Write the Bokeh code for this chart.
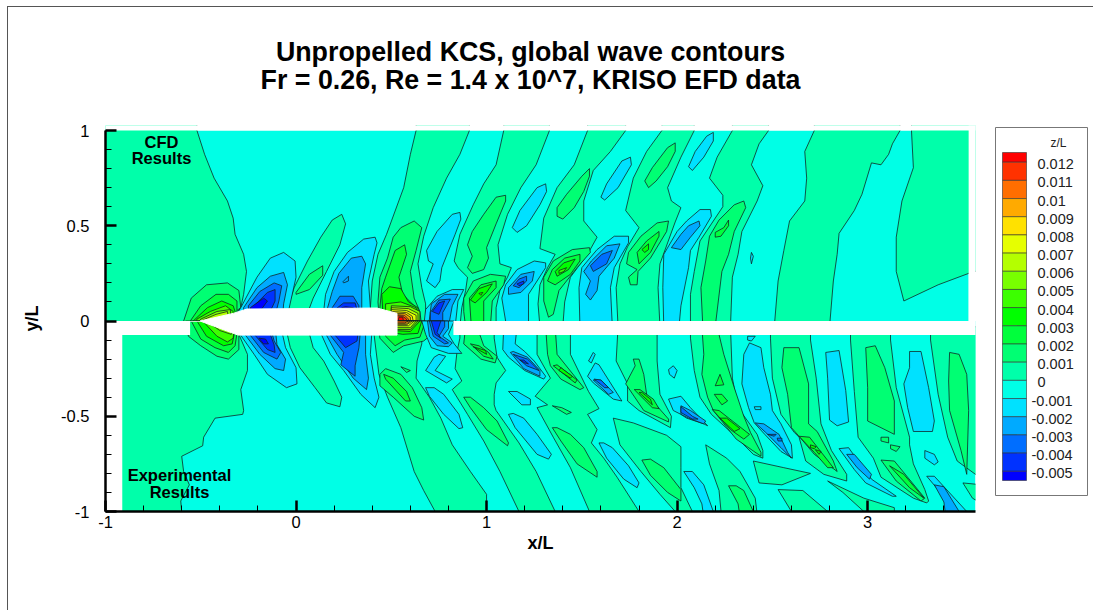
from bokeh.plotting import figure
from bokeh.embed import file_html
from bokeh.resources import INLINE
from bokeh.layouts import column, row
from bokeh.core.properties import value
from bokeh.models import FixedTicker, Label

# Contour regions, in x/L, y/L: each ring is x,y,x,y,...
# top_pN: region where z/L > N*0.001 ; top_mN: region where z/L < -N*0.001 ; same for low_*
top_p0 = [
 [-1.1,1.1,-.52,1.1,-.52,1,-.48,.875,-.43,.75,-.36,.63,-.33,.54,-.32,.455,-.275,.35,-.26,.26,-.275,.14,-.29,.07,-.31,.04,-.31,-.03,-1.1,-.03],
 [-.04,-.03,-.04,.08,-.01,.175,.06,.315,.13,.44,.19,.53,.24,.56,.26,.51,.23,.4,.16,.26,.09,.12,.06,.04,.06,-.03],
 [.63,1.1,.63,1,.6,.875,.565,.7,.475,.455,.43,.35,.4,.21,.39,.07,.39,-.03,.68,-.03,.68,.09,.66,.175,.64,.3,.67,.445,.72,.595,.79,.75,.86,.875,.91,1,.91,1.1],
 [1.09,1.1,1.09,1,1.05,.82,.985,.72,.93,.61,.86,.455,.83,.315,.85,.28,.9,.23,.89,.16,.87,.07,.86,-.03,1.05,-.03,1.05,.07,1.07,.16,1.11,.23,1.13,.28,1.07,.3,1.06,.4,1.11,.56,1.18,.7,1.26,.82,1.33,1,1.33,1.1],
 [1.53,1.1,1.53,1,1.46,.82,1.37,.7,1.3,.54,1.28,.38,1.36,.35,1.32,.28,1.28,.19,1.27,.09,1.28,-.03,1.4,-.03,1.41,.1,1.44,.23,1.53,.35,1.58,.44,1.51,.525,1.51,.63,1.56,.79,1.65,.89,1.73,1,1.73,1.1],
 [1.92,1.1,1.92,1,1.84,.89,1.77,.75,1.73,.58,1.8,.49,1.74,.39,1.7,.3,1.68,.175,1.69,-.03,1.91,-.03,1.9,.175,1.91,.3,1.99,.52,2.02,.595,1.97,.63,1.95,.7,2.02,.86,2.09,1,2.09,1.1],
 [2.29,1.1,2.29,1,2.21,.86,2.17,.75,2.24,.66,2.24,.6,2.18,.51,2.12,.42,2.09,.26,2.07,.14,2.07,-.03,2.28,-.03,2.29,.23,2.32,.35,2.34,.47,2.42,.63,2.45,.71,2.39,.82,2.43,.93,2.48,1,2.48,1.1],
 [2.72,1.1,2.72,1,2.67,.89,2.68,.75,2.67,.63,2.59,.525,2.56,.37,2.53,.21,2.51,-.03,2.8,-.03,2.82,.21,2.84,.35,2.85,.46,2.93,.58,2.97,.665,3.02,.83,3.07,.82,3.11,.875,3.13,.93,3.17,1,3.17,1.1],
 [3.23,1.1,3.23,1,3.24,.805,3.18,.63,3.15,.44,3.15,.26,3.19,.105,3.37,.19,3.53,.25,3.7,.3,3.7,1.1],
]
top_p1 = [
 [-.6,-.03,-.59,0,-.55,.12,-.47,.19,-.36,.2,-.3,.16,-.29,.07,-.33,.04,-.33,-.03],
 [0,.15,.07,.245,.14,.29,.14,.24,.07,.165,0,.14],
 [.44,-.03,.43,.1,.44,.23,.48,.33,.51,.44,.55,.49,.62,.525,.66,.49,.63,.37,.6,.26,.62,.12,.65,.05,.66,-.03],
 [1.1,.66,1.05,.65,.985,.56,.925,.47,.9,.4,.925,.34,.9,.28,.925,.25,.985,.27,1.01,.33,1,.385,1.05,.51,1.1,.63],
 [1.54,.8,1.5,.76,1.42,.665,1.37,.595,1.37,.55,1.4,.535,1.46,.595,1.51,.68,1.54,.76],
 [1.99,.935,1.95,.91,1.87,.805,1.83,.735,1.85,.7,1.89,.735,1.95,.81,1.99,.89],
 [1.1,.235,1.02,.245,.93,.21,.88,.12,.88,.05,.89,-.03,1.02,-.03,1.03,.105,1.09,.19],
 [1.54,.385,1.45,.375,1.35,.315,1.3,.23,1.3,.105,1.325,.02,1.35,.035,1.38,.16,1.475,.28,1.545,.36],
 [1.955,.525,1.895,.515,1.81,.445,1.745,.36,1.735,.3,1.79,.27,1.745,.23,1.755,.19,1.79,.19,1.795,.26,1.86,.33,1.945,.47],
 [2.35,.63,2.3,.61,2.22,.53,2.17,.445,2.15,.315,2.125,.175,2.135,-.03,2.2,-.03,2.235,.26,2.27,.35,2.3,.47,2.36,.595],
]
top_p2 = [
 [-.58,-.03,-.555,0,-.5,.08,-.42,.14,-.355,.14,-.31,.105,-.31,.05,-.33,.03,-.33,-.03],
 [.45,-.03,.44,.07,.45,.17,.47,.23,.52,.37,.57,.4,.58,.35,.54,.23,.56,.14,.63,.07,.64,-.03],
 [1.05,.21,.97,.19,.91,.12,.92,-.03,.985,-.03,.985,.105,1.05,.175],
 [1.49,.35,1.41,.33,1.345,.27,1.32,.21,1.36,.19,1.44,.245,1.49,.315],
 [1.905,.47,1.84,.42,1.79,.36,1.8,.3,1.86,.36,1.905,.445],
 [2.27,.53,2.245,.49,2.2,.465,2.2,.44,2.23,.445,2.27,.5],
]
top_p3 = [
 [-.56,-.03,-.54,0,-.465,.07,-.39,.105,-.33,.08,-.32,.05,-.33,-.03],
 [.46,-.03,.45,.14,.49,.18,.55,.17,.59,.1,.64,.07,.65,-.03],
 [1.03,.195,.96,.17,.915,.11,.94,.095,1,.15],
 [1.465,.325,1.405,.305,1.36,.26,1.37,.235,1.43,.27],
 [1.85,.405,1.815,.375,1.83,.36,1.85,.375],
]
top_p4 = [
 [-.54,-.03,-.52,.01,-.45,.05,-.37,.08,-.33,.05,-.33,-.03],
 [.47,-.03,.47,.09,.55,.1,.63,.07,.65,-.03],
 [.96,.145,.98,.15,.97,.135],
 [1.42,.28,1.38,.265,1.38,.25,1.405,.26],
]
top_p5 = [[-.52,-.03,-.5,.01,-.415,.05,-.345,.06,-.34,-.03],[.5,-.03,.5,.08,.6,.075,.65,.05,.65,-.03]]
top_p6 = [[-.5,-.03,-.49,.005,-.42,.035,-.36,.05,-.35,-.03],[.5,-.03,.5,.07,.59,.065,.64,.04,.64,-.03]]
top_p7 = [[.5,-.03,.5,.06,.58,.055,.63,.03,.63,-.03]]
top_p8 = [[.5,-.03,.5,.05,.58,.045,.61,.025,.62,-.03]]
top_p9 = [[.5,-.03,.5,.04,.57,.04,.6,.02,.6,-.03]]
top_p10 = [[.5,-.03,.5,.035,.57,.03,.59,.01,.59,-.03]]
top_p11 = [[.5,-.03,.5,.03,.56,.025,.58,.01,.58,-.03]]
top_p12 = [[.53,-.03,.54,.02,.56,.02,.57,-.03]]
top_m1 = [
 [-.31,-.03,-.31,.04,-.29,.07,-.205,.23,-.135,.33,-.065,.36,-.005,.315,0,.23,-.02,.14,-.04,.05,-.04,-.03],
 [.145,-.03,.145,.05,.155,.14,.2,.26,.27,.36,.355,.43,.415,.44,.425,.41,.41,.35,.38,.21,.39,.07,.38,-.03],
 [.86,.57,.82,.56,.74,.47,.685,.37,.695,.315,.72,.3,.685,.21,.73,.175,.755,.21,.765,.28,.835,.455,.865,.535],
 [.88,.165,.82,.165,.74,.13,.68,.06,.67,-.03,.835,-.03,.85,.105],
 [1.31,.305,1.25,.315,1.16,.27,1.1,.19,1.08,.12,1.105,-.03,1.22,-.03,1.22,.14,1.31,.28],
 [1.31,.72,1.265,.7,1.175,.58,1.135,.49,1.16,.465,1.21,.5,1.28,.61,1.315,.68],
 [1.745,.445,1.67,.445,1.58,.375,1.5,.28,1.485,.175,1.49,-.03,1.66,-.03,1.65,.175,1.67,.28,1.745,.41],
 [1.755,.86,1.71,.84,1.63,.72,1.6,.65,1.62,.635,1.69,.7,1.76,.82],
 [2.19,.99,2.155,.97,2.095,.89,2.06,.81,2.08,.79,2.14,.86,2.19,.945],
 [2.175,.585,2.12,.585,2.05,.525,2,.47,1.93,.35,1.925,.175,1.93,-.03,2.01,-.03,2.02,.08,2.06,.28,2.07,.37,2.115,.44,2.18,.55],
 [2.39,.36,2.4,.34,2.39,.3,2.385,.33],
]
top_m2 = [
 [-.275,.03,-.275,.07,-.205,.175,-.135,.235,-.065,.255,-.045,.19,-.065,.09,-.07,.03],
 [.16,-.03,.16,.05,.19,.155,.225,.25,.29,.33,.345,.34,.365,.3,.345,.175,.345,.05,.36,-.03],
 [.245,.205,.275,.235,.275,.21,.25,.2],
 [.85,.14,.78,.14,.71,.09,.695,-.03,.8,-.03,.82,.08],
 [1.25,.26,1.18,.245,1.115,.175,1.115,.14,1.18,.15,1.24,.21],
 [1.7,.405,1.63,.395,1.55,.315,1.51,.26,1.545,.21,1.52,.14,1.545,.11,1.58,.16,1.59,.235,1.67,.33],
 [2.115,.525,2.06,.5,2.02,.455,1.97,.385,2.02,.375,2.07,.44,2.12,.5],
]
top_m3 = [
 [-.25,.03,-.25,.08,-.19,.155,-.115,.2,-.075,.185,-.09,.105,-.11,.03],
 [.19,.03,.19,.07,.23,.13,.3,.13,.33,.08,.33,.03],
 [.81,.115,.75,.11,.705,.045,.705,-.03,.77,-.03,.77,.045],
 [1.21,.235,1.17,.22,1.14,.185,1.17,.175,1.21,.21],
 [1.66,.37,1.605,.35,1.545,.29,1.56,.26,1.63,.3],
]
top_m4 = [
 [-.22,.03,-.22,.08,-.15,.15,-.11,.165,-.11,.105,-.145,.03],
 [.205,.03,.205,.06,.25,.095,.31,.095,.32,.06,.32,.03],
 [.78,.105,.75,.095,.715,.05,.75,.035],
 [1.195,.21,1.16,.195,1.17,.185,1.195,.195],
]
top_m5 = [[-.24,.05,-.24,.07,-.17,.12,-.15,.105,-.19,.05],[.24,.05,.24,.07,.26,.075,.3,.07,.3,.05]]

low_p0 = [
 [-1,-.03,-.3,-.03,-.3,-.07,-.255,-.175,-.255,-.26,-.29,-.36,-.275,-.47,-.28,-.49,-.425,-.51,-.485,-.61,-.49,-.655,-.6,-.71,-.59,-.79,-.56,-.86,-.605,-.945,-.6,-1,-.6,-1.1,-1,-1.1],
 [-.055,-.03,-.03,-.14,.02,-.245,.1,-.35,.16,-.43,.23,-.45,.24,-.4,.2,-.315,.145,-.21,.09,-.14,.06,-.03],
 [.41,-.03,.41,-.075,.435,-.28,.48,-.4,.55,-.56,.62,-.79,.67,-.89,.73,-1,.73,-1.1,1,-1.1,1,-.91,.915,-.79,.82,-.65,.76,-.51,.7,-.4,.63,-.3,.635,-.21,.66,-.12,.66,-.03],
 [.86,-.03,.86,-.09,.845,-.16,.835,-.25,.87,-.315,.82,-.36,.9,-.49,.985,-.63,1.07,-.79,1.17,-1,1.17,-1.1,1.36,-1.1,1.36,-1,1.26,-.79,1.17,-.64,1.05,-.47,1.04,-.44,1.04,-.385,1.05,-.325,1.1,-.26,1.055,-.19,1.04,-.09,1.04,-.03],
 [1.265,-.03,1.265,-.175,1.335,-.3,1.255,-.395,1.32,-.44,1.265,-.455,1.35,-.61,1.44,-.77,1.54,-1,1.54,-1.1,1.8,-1.1,1.8,-1,1.685,-.82,1.615,-.72,1.55,-.64,1.58,-.57,1.53,-.49,1.59,-.46,1.535,-.37,1.44,-.175,1.44,-.03],
 [1.69,-.03,1.68,-.21,1.74,-.33,1.74,-.42,1.8,-.47,1.965,-.56,1.97,-.5,1.91,-.385,1.895,-.21,1.895,-.03],
 [1.665,-.51,1.77,-.535,1.945,-.6,2.02,-.66,2.02,-.77,2.02,-.875,2.08,-1,2.08,-1.1,1.99,-1.1,1.99,-1,1.91,-.91,1.81,-.79,1.7,-.65],
 [2.07,-.03,2.07,-.09,2.09,-.26,2.12,-.4,2.18,-.49,2.3,-.6,2.4,-.7,2.45,-.72,2.45,-.68,2.42,-.595,2.32,-.455,2.29,-.3,2.28,-.03],
 [2.49,-.03,2.49,-.09,2.5,-.3,2.545,-.49,2.615,-.585,2.64,-.61,2.675,-.735,2.77,-.805,2.89,-.84,2.89,-.805,2.81,-.68,2.755,-.54,2.73,-.3,2.7,-.1,2.7,-.03],
 [2.91,-.03,2.91,-.1,2.93,-.37,2.95,-.61,3.03,-.72,3.07,-.82,3.24,-.93,3.31,-.955,3.32,-.945,3.3,-.885,3.24,-.75,3.22,-.65,3.22,-.61,3.15,-.35,3.12,-.1,3.12,-.03],
 [3.33,-.03,3.33,-.1,3.37,-.385,3.42,-.61,3.47,-.735,3.6,-.83,3.7,-.83,3.7,-.03],
 [3.5,-.85,3.6,-.86,3.6,-.96,3.55,-.93],
 [2.15,-.65,2.26,-.72,2.33,-.79,2.41,-.93,2.43,-1.1,2.24,-1.1,2.22,-.89,2.17,-.75],
 [2.4,-.735,2.56,-.77,2.7,-.8,2.55,-.86,2.43,-.85],
 [2.53,-.885,2.66,-.89,2.79,-1,2.79,-1.1,2.6,-1.1,2.6,-1],
 [2.79,-.84,2.98,-.93,3.14,-.98,3.14,-1.1,2.98,-1.1,2.98,-1,2.87,-.9],
]
low_p1 = [
 [-.58,0,-.565,-.08,-.5,-.13,-.415,-.185,-.355,-.2,-.3,-.15,-.3,0],
 [.43,0,.44,-.09,.51,-.165,.565,-.13,.67,-.105,.7,-.08,.7,0],
 [.47,-.25,.44,-.28,.44,-.34,.51,-.4,.62,-.5,.67,-.52,.66,-.455,.61,-.35,.55,-.28],
 [.55,-.24,.6,-.26,.58,-.27],
 [.88,-.4,.915,-.455,1,-.57,1.11,-.655,1.115,-.64,1.055,-.525,.985,-.455,.915,-.4],
 [1.345,-.56,1.39,-.63,1.475,-.75,1.58,-.82,1.58,-.79,1.51,-.665,1.44,-.595,1.37,-.56],
 [1.815,-.73,1.86,-.81,1.95,-.9,2.02,-.945,2.02,-.885,1.93,-.77,1.86,-.725],
 [2.27,-.865,2.32,-.96,2.34,-1.1,2.4,-1.1,2.4,-1,2.35,-.89,2.31,-.865],
 [1.345,-.445,1.42,-.49,1.445,-.48,1.395,-.455],
 [.89,-.03,.88,-.12,.97,-.2,1.045,-.22,1.055,-.185,.985,-.13,.95,-.03],
 [1.31,-.03,1.32,-.175,1.335,-.235,1.39,-.305,1.49,-.36,1.51,-.35,1.37,-.175,1.36,-.03],
 [1.77,-.2,1.78,-.235,1.73,-.33,1.825,-.47,1.955,-.53,1.955,-.515,1.84,-.385,1.825,-.28,1.8,-.2],
 [2.13,-.03,2.14,-.175,2.13,-.28,2.16,-.4,2.19,-.47,2.31,-.62,2.44,-.71,2.44,-.69,2.385,-.585,2.35,-.5,2.3,-.35,2.245,-.175,2.21,-.03],
 [2.56,-.14,2.64,-.14,2.69,-.33,2.69,-.54,2.735,-.58,2.82,-.735,2.84,-.79,2.72,-.7,2.64,-.605,2.6,-.56,2.58,-.385,2.55,-.245],
 [2.99,-.14,3.04,-.13,3.09,-.245,3.14,-.42,3.14,-.595,3,-.525,3,-.35],
 [3.07,-.73,3.14,-.735,3.3,-.93,3.28,-.945,3.15,-.84],
 [3.07,-.61,3.11,-.61,3.11,-.64,3.07,-.63],
 [3.12,-.65,3.17,-.66,3.15,-.685,3.12,-.67],
 [3.43,-.165,3.48,-.175,3.52,-.28,3.53,-.47,3.52,-.805,3.49,-.68,3.43,-.47,3.425,-.315],
]
low_p2 = [
 [-.55,0,-.5,-.095,-.425,-.14,-.355,-.165,-.32,-.13,-.3,0],
 [.46,0,.47,-.08,.52,-.13,.57,-.1,.65,-.085,.68,0],
 [.46,-.28,.47,-.305,.575,-.42,.6,-.42,.58,-.37,.51,-.3],
 [.915,-.12,.985,-.185,1.035,-.2,1.01,-.165,.96,-.13],
 [1.35,-.235,1.465,-.325,1.475,-.31,1.37,-.23],
 [1.775,-.36,1.87,-.455,1.905,-.46,1.875,-.41,1.805,-.36],
 [2.225,-.28,2.245,-.335,2.2,-.34],
 [2.195,-.385,2.235,-.385,2.265,-.42,2.235,-.44],
 [2.185,-.465,2.22,-.47,2.38,-.595,2.35,-.62,2.28,-.57],
 [2.64,-.605,2.695,-.61,2.82,-.77,2.79,-.77,2.72,-.69],
 [3.115,-.76,3.19,-.805,3.295,-.93,3.22,-.875],
]
low_p3 = [
 [-.52,0,-.47,-.08,-.38,-.13,-.335,-.12,-.31,0],
 [.5,0,.5,-.06,.56,-.07,.64,-.065,.66,0],
 [.93,-.135,1,-.175,.995,-.155],
 [1.38,-.26,1.44,-.3,1.45,-.29,1.39,-.245],
 [1.8,-.375,1.87,-.44,1.86,-.41,1.815,-.375],
 [2.225,-.51,2.26,-.51,2.33,-.565,2.3,-.58],
 [2.7,-.65,2.73,-.66,2.72,-.67,2.7,-.665],
 [2.725,-.675,2.755,-.685,2.745,-.7],
]
low_p4 = [[-.49,0,-.415,-.08,-.36,-.11,-.33,-.09,-.32,0],[.51,0,.51,-.05,.6,-.055,.65,0]]
low_p5 = [[-.47,0,-.4,-.05,-.34,-.07,-.33,0],[.52,0,.52,-.045,.6,-.045,.64,0]]
low_p6 = [[-.45,0,-.38,-.03,-.34,-.04,-.34,0],[.52,0,.52,-.035,.6,-.035,.63,0]]
low_p7 = [[.52,0,.52,-.025,.59,-.025,.62,0]]
low_p8 = [[.52,0,.52,-.02,.58,-.02,.61,0]]
low_p9 = [[.52,0,.52,-.015,.58,-.015,.6,0]]
low_p10 = [[.52,0,.52,-.01,.57,-.01,.59,0]]
low_m1 = [
 [-.3,-.03,-.29,-.075,-.22,-.175,-.15,-.28,-.05,-.35,.005,-.33,0,-.245,-.055,-.14,-.08,-.03],
 [.135,-.03,.135,-.075,.18,-.175,.25,-.26,.34,-.385,.415,-.455,.435,-.4,.41,-.3,.39,-.175,.4,-.03],
 [.66,0,.68,-.07,.71,-.14,.8,-.17,.87,-.17,.83,-.12,.8,-.07,.83,0],
 [.75,-.175,.785,-.185,.73,-.26,.82,-.305,.79,-.325,.68,-.26,.725,-.19],
 [.68,-.35,.7,-.395,.775,-.49,.855,-.565,.875,-.56,.855,-.49,.775,-.385,.725,-.35],
 [1.115,-.49,1.15,-.56,1.265,-.7,1.325,-.725,1.34,-.7,1.265,-.595,1.195,-.51,1.14,-.485],
 [1.59,-.64,1.63,-.72,1.72,-.83,1.79,-.875,1.8,-.85,1.745,-.76,1.66,-.665,1.615,-.64],
 [2.035,-.79,2.09,-.875,2.13,-.96,2.15,-1.1,2.2,-1.1,2.19,-1,2.14,-.86,2.08,-.79],
 [1.115,-.37,1.185,-.44,1.23,-.44,1.23,-.41,1.16,-.37],
 [1.09,-.03,1.085,-.15,1.115,-.19,1.2,-.26,1.3,-.305,1.31,-.29,1.25,-.21,1.2,-.16,1.15,-.12,1.16,-.03],
 [1.53,-.29,1.57,-.22,1.59,-.23,1.71,-.42,1.665,-.41,1.56,-.325],
 [1.535,-.21,1.56,-.165,1.57,-.175,1.55,-.22],
 [1.955,-.255,1.98,-.235,2,-.26,1.985,-.3,1.96,-.28],
 [2.02,-.395,2.07,-.455,2.16,-.55,2.14,-.54,2.05,-.51,2.02,-.49,1.98,-.47,1.955,-.41],
 [2.38,-.115,2.44,-.14,2.455,-.245,2.49,-.385,2.5,-.47,2.545,-.54,2.6,-.65,2.605,-.72,2.545,-.685,2.46,-.595,2.405,-.535,2.375,-.455,2.34,-.33,2.35,-.175],
 [2.405,-.45,2.44,-.45,2.44,-.465,2.41,-.465],
 [2.37,-.08,2.41,-.08,2.39,-.105,2.37,-.1],
 [2.78,-.165,2.85,-.155,2.885,-.365,2.9,-.53,2.84,-.55,2.8,-.52,2.79,-.3],
 [2.85,-.67,2.9,-.665,2.96,-.75,3.02,-.83,3.15,-.92,3.13,-.92,2.99,-.85,2.93,-.78],
 [3.3,-.68,3.35,-.7,3.37,-.74,3.35,-.755,3.3,-.72],
 [3.22,-.16,3.28,-.16,3.32,-.35,3.35,-.525,3.34,-.58,3.24,-.58,3.21,-.455,3.19,-.33,3.22,-.245],
 [3.31,-.815,3.35,-.815,3.52,-1,3.52,-1.1,3.45,-1.1,3.42,-.945],
]
low_m2 = [
 [-.265,-.03,-.265,-.075,-.19,-.175,-.11,-.25,-.065,-.26,-.055,-.2,-.1,-.125,-.11,-.03],
 [.16,-.03,.16,-.075,.215,-.175,.3,-.3,.37,-.36,.38,-.3,.365,-.175,.365,-.03],
 [.69,0,.7,-.08,.74,-.13,.8,-.135,.82,-.115,.77,-.08,.8,-.04,.8,0],
 [1.125,-.165,1.195,-.25,1.28,-.29,1.28,-.26,1.215,-.19,1.14,-.16],
 [1.56,-.31,1.6,-.31,1.665,-.375,1.64,-.385],
 [2.02,-.445,2.07,-.47,2.15,-.525,2.14,-.54,2.06,-.51,2.02,-.49],
 [2.41,-.535,2.455,-.54,2.535,-.595,2.58,-.69,2.6,-.72,2.545,-.665,2.465,-.585],
 [2.89,-.7,2.93,-.7,3.02,-.805,3.01,-.83,2.945,-.77],
 [3.35,-.86,3.4,-.87,3.48,-1,3.48,-1.1,3.42,-1.1,3.4,-.95],
]
low_m3 = [
 [-.24,-.03,-.24,-.075,-.17,-.165,-.1,-.2,-.08,-.165,-.115,-.105,-.135,-.03],
 [.18,-.03,.18,-.075,.25,-.165,.235,-.23,.31,-.29,.31,-.235,.33,-.14,.34,-.03],
 [.7,0,.72,-.08,.78,-.12,.8,-.115,.75,-.08,.78,-.03,.78,0],
 [1.14,-.175,1.21,-.235,1.275,-.26,1.215,-.2],
 [1.565,-.305,1.6,-.31,1.64,-.35,1.62,-.35],
 [2.02,-.45,2.08,-.5,2.11,-.515,2.08,-.515,2.02,-.48],
 [2.475,-.595,2.52,-.595,2.51,-.605],
 [2.525,-.615,2.55,-.615,2.55,-.63,2.53,-.63],
]
low_m4 = [
 [-.215,-.03,-.215,-.075,-.15,-.15,-.11,-.165,-.115,-.125,-.15,-.03],
 [.205,-.03,.205,-.075,.26,-.14,.32,-.105,.33,-.03],
 [.71,0,.73,-.07,.76,-.09,.74,-.06,.76,0],
 [1.175,-.205,1.2,-.22,1.22,-.225,1.195,-.205],
]
low_m5 = [[-.195,-.09,-.17,-.12,-.145,-.12,-.16,-.095]]

hull_x = [-.504,-.33,-.257,.425,.53,.53,-.304]
hull_y = [0,.04,.063,.068,.04,-.074,-.074]

palette = ["#0000ff","#0032ff","#006eff","#00aaff","#00e1ff","#00ffe6","#00ffaa","#00ff73","#00ff3c","#00ff00",
           "#3cff00","#78ff00","#b4ff00","#e6ff00","#ffe100","#ffaa00","#ff6e00","#ff3200","#ff0000"]
legend_labels = ["0.012","0.011","0.01","0.009","0.008","0.007","0.006","0.005","0.004","0.003","0.002","0.001","0",
                 "-0.001","-0.002","-0.003","-0.004","-0.005"]
title_lines = ["Unpropelled KCS, global wave contours", "Fr = 0.26, Re = 1.4 x 10^7, KRISO EFD data"]

# page layout: column origin at (8,7); title strip to y=120; plot and legend side by side below it.
# Both frames of the row share their top (page y=125) and bottom (page y=511).
FL, FB, FT = 105, 511, 125
p = figure(width=977, height=490, x_range=(-1, 3.566), y_range=(-1, 1+(130-FT)/190.5), output_backend="svg", toolbar_location=None,
           min_border_left=FL-8, min_border_right=10, min_border_top=FT-120, min_border_bottom=610-FB)
p.grid.visible = False
p.outline_line_color = None
p.background_fill_color = "white"

def draw(rings, band):
    if rings:
        xs = [r[0::2] for r in rings]
        ys = [r[1::2] for r in rings]
        p.patches(xs, ys, fill_color=palette[band], line_color="#102020", line_width=0.9, line_alpha=0.85)

CYAN = 5  # band -0.001..0
p.quad(left=[-1], right=[3.53], top=[1], bottom=[0], color=palette[CYAN], line_color=None)
tops = [top_p0,top_p1,top_p2,top_p3,top_p4,top_p5,top_p6,top_p7,top_p8,top_p9,top_p10,top_p11,top_p12]
for i, r in enumerate(tops):
    draw(r, 6 + i)
for i, r in enumerate([top_m1,top_m2,top_m3,top_m4,top_m5]):
    draw(r, 4 - i)
# everything outside the upper block is blank before the lower half is drawn
p.quad(left=[-1,3.53,-1.1], right=[3.7,3.7,3.7], top=[0,1.1,1.2], bottom=[-1.1,-.1,1], color="white", line_color=None)
p.quad(left=[-.912], right=[3.566], top=[0], bottom=[-1], color=palette[CYAN], line_color=None)
lows = [low_p0,low_p1,low_p2,low_p3,low_p4,low_p5,low_p6,low_p7,low_p8,low_p9,low_p10]
for i, r in enumerate(lows):
    draw(r, 6 + i)
for i, r in enumerate([low_m1,low_m2,low_m3,low_m4,low_m5]):
    draw(r, 4 - i)
# hull and blank strip between the two halves
p.quad(left=[-1,-1,.826], right=[-.912,-.556,3.7], top=[0,0,0], bottom=[-1.1,-.074,-.074], color="white", line_color=None)
p.quad(left=[-.556], right=[-.504], top=[0], bottom=[-.004], color="white", line_color=None)
p.patch(hull_x, hull_y, color="white", line_color="white")

p.xaxis.ticker = FixedTicker(ticks=[-1,0,1,2,3], minor_ticks=[round(-1+.2*i,1) for i in range(23)])
p.yaxis.ticker = FixedTicker(ticks=[-1,-.5,0,.5,1], minor_ticks=[round(-1+.1*i,1) for i in range(21)])
p.xaxis.major_label_overrides = {-1:"-1",0:"0",1:"1",2:"2",3:"3"}
p.yaxis.major_label_overrides = {-1:"-1",-.5:"-0.5",0:"0",.5:"0.5",1:"1"}
p.yaxis.bounds = (-1, 1)
for ax in (p.xaxis[0], p.yaxis[0]):
    ax.axis_line_width = 2.5
    ax.major_tick_line_width = 2.5
    ax.minor_tick_line_width = 1
    ax.major_tick_in = 11
    ax.major_tick_out = 0
    ax.minor_tick_in = 6
    ax.minor_tick_out = 0
    ax.major_label_text_font = "Liberation Sans"
    ax.major_label_text_font_size = "16.5px"
    ax.major_label_text_color = "black"
    ax.axis_label_text_font = "Liberation Sans"
    ax.axis_label_text_font_style = "bold"
    ax.axis_label_text_font_size = "18px"
    ax.axis_label_text_color = "black"
p.xaxis.axis_label = "x/L"
p.yaxis.axis_label = "y/L"
p.xaxis.major_label_standoff = 4
p.yaxis.major_label_standoff = 16
p.xaxis.axis_label_standoff = 2
p.yaxis.axis_label_standoff = 16

def inner_text(s, x, y):
    p.add_layout(Label(x=x-FL, y=FB-y, x_units="screen", y_units="screen", text=s, text_font="Liberation Sans",
                       text_font_size="16.5px", text_color="black", text_font_style="bold",
                       text_align="center", text_baseline="middle"))
inner_text("CFD", 161, 141)
inner_text("Results", 161, 157)
inner_text("Experimental", 179, 474)
inner_text("Results", 179, 491)

# title strip
t = figure(width=1085, height=113, x_range=(8,1093), y_range=(120,7), output_backend="svg", toolbar_location=None,
           x_axis_type=None, y_axis_type=None, min_border=0)
t.grid.visible = False
t.outline_line_color = None
t.text(x=[530,530], y=[51,79], text=title_lines, text_font=value("Liberation Sans"), text_font_style="bold",
       text_font_size="26.8px", text_align="center", text_baseline="middle", text_color="black")

# legend panel
q = figure(width=108, height=490, x_range=(985,1093), y_range=(FB,FT), output_backend="svg", toolbar_location=None,
           x_axis_type=None, y_axis_type=None, min_border=0)
q.grid.visible = False
q.outline_line_color = None
q.quad(left=[995], right=[1087], top=[127], bottom=[495], fill_color="white", line_color="#777777", line_width=1)
top_level_y, step = 161.7, 18.18
edges = [152] + [top_level_y + step*i for i in range(18)] + [480]
q.quad(left=[1002]*19, right=[1026]*19, top=edges[:-1], bottom=edges[1:], fill_color=palette[::-1],
       line_color="#333333", line_width=0.6)
q.text(x=[1031 if s.startswith("-") else 1037 for s in legend_labels],
       y=[top_level_y + step*i + 2 for i in range(18)], text=legend_labels, text_font=value("Liberation Sans"),
       text_font_size="14.5px", text_align="left", text_baseline="middle", text_color="#222222")
q.text(x=[1058], y=[142], text=["z/L"], text_font=value("Liberation Sans"), text_font_size="12px",
       text_align="center", text_baseline="middle", text_color="#222222")

page = column(t, row(p, q, spacing=0), spacing=0, margin=(6,0,0,7),
              styles={"border-left":"1px solid #555555", "border-top":"1px solid #555555"})
open("out.html", "w").write(file_html(page, INLINE))
